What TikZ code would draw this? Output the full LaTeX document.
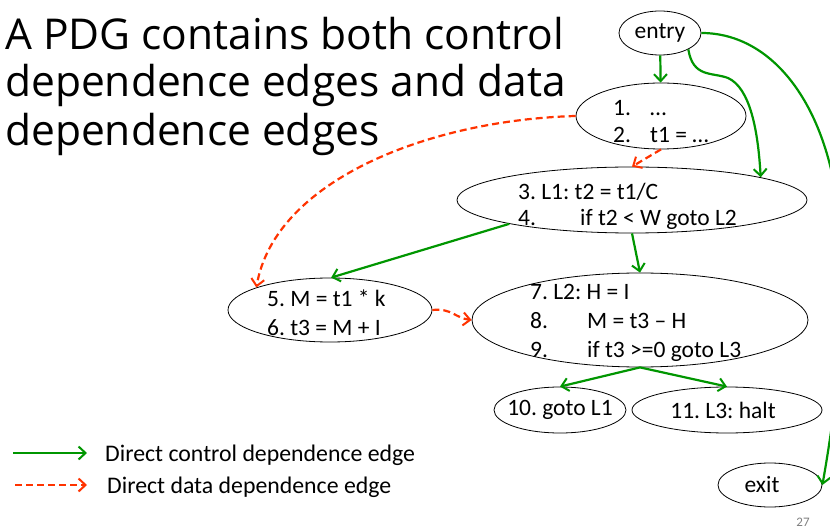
\documentclass[tikz,border=0pt]{standalone}
\usepackage{fontspec}
\setmainfont{Carlito}
\newfontfamily\titlefont{Open Sans}
\usetikzlibrary{shapes.geometric,arrows.meta}
\definecolor{pdggreen}{RGB}{0,150,0}
\definecolor{pdgred}{RGB}{255,51,0}
\definecolor{pagegray}{RGB}{128,128,128}
\frenchspacing
\tikzset{
  pdgnode/.style={ellipse, draw=black, line width=0.8pt, inner sep=0pt},
  codetext/.style={inner sep=0pt, anchor=west, font=\fontsize{23.5}{26}\selectfont},
  onetext/.style={inner sep=0pt, font=\fontsize{23.5}{26}\selectfont},
  ctrl/.style={draw=pdggreen, line width=2.2pt, -{Straight Barb[length=7pt,width=13pt,line width=2pt]}},
  data/.style={draw=pdgred, line width=2.2pt, dash pattern=on 7pt off 4pt, -{Straight Barb[length=7pt,width=13pt,line width=2pt]}},
  titleline/.style={inner sep=0pt, anchor=base west, font=\titlefont\fontsize{42.5}{48}\selectfont},
  legendtext/.style={inner sep=0pt, anchor=west, font=\fontsize{23.8}{26}\selectfont}
}
\begin{document}
\begin{tikzpicture}[x=1pt,y=-1pt]
\clip (0,0) rectangle (830,529);
\fill[white] (0,0) rectangle (830,529);

% title
\node[titleline] (title1) at (5,50) {A PDG contains both control};
\node[titleline] (title2) at (5,97) {dependence edges and data};
\node[titleline] (title3) at (5,146) {dependence edges};

% ellipses
\node[pdgnode, minimum width=82pt, minimum height=44pt] (entry) at (660,33) {};
\node[pdgnode, minimum width=170pt, minimum height=66pt] (n12) at (661,116) {};
\node[pdgnode, minimum width=350pt, minimum height=66pt] (n34) at (632,200) {};
\node[pdgnode, minimum width=204pt, minimum height=64pt] (n56) at (330,310) {};
\node[pdgnode, minimum width=336pt, minimum height=94pt] (n79) at (640,320) {};
\node[pdgnode, minimum width=132pt, minimum height=46pt] (n10) at (560,410) {};
\node[pdgnode, minimum width=190pt, minimum height=46pt] (n11) at (727,410) {};
\node[pdgnode, minimum width=104pt, minimum height=44pt] (exit) at (770,485) {};

% texts
\node[onetext] (tentry) at (660,33) {entry};
\node[codetext, font=\fontsize{23.5}{27}\selectfont] (t12) at (613,124)
  {\begin{tabular}{@{}p{37pt}@{}l@{}}1. & …\\ 2. & t1 = …\end{tabular}};
\node[codetext] (t34) at (518,207)
  {\begin{tabular}{@{}p{62pt}@{}l@{}}\multicolumn{2}{@{}l@{}}{3. L1: t2 = t1/C}\\ 4. & if t2 < W goto L2\end{tabular}};
\node[codetext, font=\fontsize{23.5}{29}\selectfont] (t56) at (267,315)
  {\begin{tabular}{@{}l@{}}5. M = t1 * k\\ 6. t3 = M + I\end{tabular}};
\node[codetext, font=\fontsize{23.5}{29}\selectfont] (t79) at (530,323)
  {\begin{tabular}{@{}p{57pt}@{}l@{}}\multicolumn{2}{@{}l@{}}{7. L2: H = I}\\ 8. & M = t3 – H\\ 9. & if t3 >=0 goto L3\end{tabular}};
\node[onetext] (t10) at (560,410) {10. goto L1};
\node[onetext] (t11) at (723,410) {11. L3: halt};
\node[onetext] (texit) at (762,485) {exit};

% control dependence edges
\draw[ctrl] (entry) -- (n12);
\draw[ctrl] (entry.-30) .. controls (693,78) and (712,72) .. (728,78)
  .. controls (750,88) and (758,130) .. (n34.10);
\draw[ctrl] (entry.east) .. controls (775,33) and (832,110) .. (840,230)
  .. controls (848,330) and (832,430) .. (exit.east);
\draw[ctrl] (n34.191) -- (n56.88);
\draw[ctrl] (n34.south) -- (n79.north);
\draw[ctrl] (n79.south) -- (n10.north);
\draw[ctrl] (n79.south) -- (n11.north);

% data dependence edges
\draw[data] (n12.south) -- (n34.north);
\draw[data] (n12.west) .. controls (430,120) and (275,180) .. (n56.163);
\draw[data] (n56.east) .. controls (452,308) and (455,318) .. (n79.west);

% legend
\coordinate (lg1a) at (13,453);
\coordinate (lg1b) at (87,453);
\coordinate (lg2a) at (15,485);
\coordinate (lg2b) at (87,485);
\draw[ctrl] (lg1a) -- (lg1b);
\draw[data] (lg2a) -- (lg2b);
\node[legendtext] (lgt1) at (105,455) {Direct control dependence edge};
\node[legendtext] (lgt2) at (107,487) {Direct data dependence edge};

% page number
\node[inner sep=0pt, text=pagegray, font=\fontsize{13}{15}\selectfont] (pagenum) at (803,522) {27};
\end{tikzpicture}
\end{document}
